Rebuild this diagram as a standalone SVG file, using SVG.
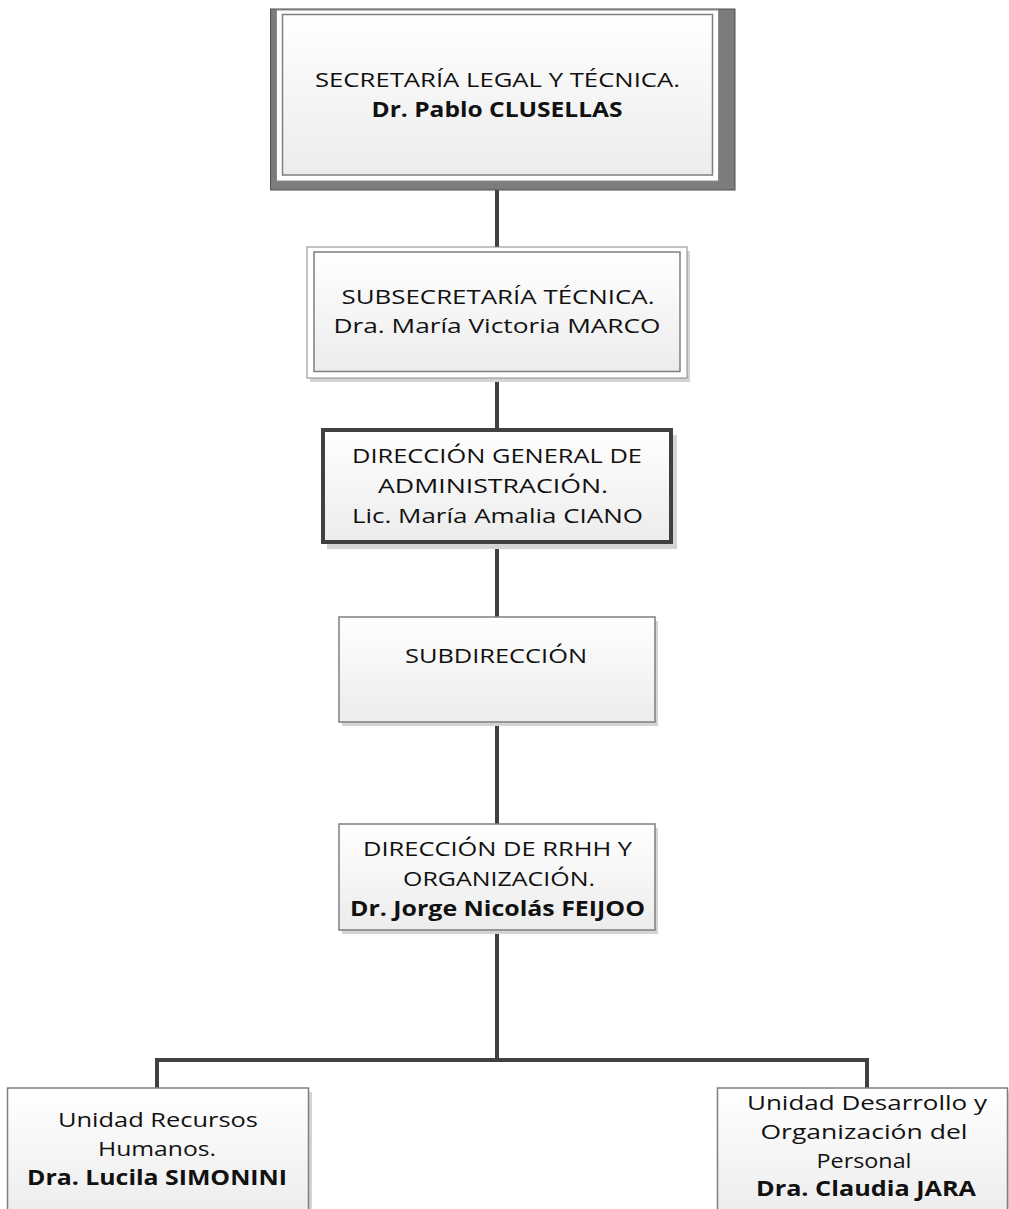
<svg xmlns="http://www.w3.org/2000/svg" width="1009" height="1209" viewBox="0 0 1009 1209">
<defs>
<linearGradient id="g" x1="0" y1="0" x2="0" y2="1">
<stop offset="0" stop-color="#ffffff"/>
<stop offset="1" stop-color="#ececec"/>
</linearGradient>
<style>
.t{font-family:"Open Sans","Liberation Sans",sans-serif;font-size:20.5px;fill:#111;text-anchor:middle}
.b{font-weight:bold}
.box{fill:url(#g);stroke:#7f7f7f;stroke-width:1.5}
.thick{fill:url(#g);stroke:#404040;stroke-width:4}
.sh{fill:#d4d4d4}
.c{fill:none;stroke:#404040;stroke-width:4}
</style>
</defs>
<rect width="1009" height="1209" fill="#ffffff"/>
<g id="connectors">
<line class="c" x1="497" y1="189" x2="497" y2="247"/>
<line class="c" x1="497" y1="378" x2="497" y2="429"/>
<line class="c" x1="497" y1="544" x2="497" y2="617"/>
<line class="c" x1="497" y1="722" x2="497" y2="824"/>
<line class="c" x1="497" y1="930" x2="497" y2="1060"/>
<polyline class="c" points="157,1088 157,1060 867,1060 867,1088"/>
</g>
<g id="n1">
<rect x="270.5" y="9" width="464.5" height="181" fill="#7c7c7c" stroke="#505050" stroke-width="1"/>
<rect x="276.5" y="10" width="442" height="171" fill="#ffffff" stroke="#8a8a8a" stroke-width="1"/>
<rect x="282.5" y="14.5" width="430" height="160.5" class="box"/>
<text class="t" x="497.5" y="87" textLength="365" lengthAdjust="spacingAndGlyphs">SECRETARÍA LEGAL Y TÉCNICA.</text>
<text class="t b" x="497" y="117" textLength="251" lengthAdjust="spacingAndGlyphs">Dr. Pablo CLUSELLAS</text>
</g>
<g id="n2">
<rect x="310" y="251" width="380" height="131" class="sh"/>
<rect x="307" y="247" width="380" height="131" fill="#ffffff" stroke="#8a8a8a" stroke-width="1"/>
<rect x="314" y="252" width="366" height="119.5" class="box"/>
<text class="t" x="498" y="304" textLength="313" lengthAdjust="spacingAndGlyphs">SUBSECRETARÍA TÉCNICA.</text>
<text class="t" x="497" y="333" textLength="327" lengthAdjust="spacingAndGlyphs">Dra. María Victoria MARCO</text>
</g>
<g id="n3">
<rect x="327" y="435" width="350" height="114" class="sh"/>
<rect x="323" y="430" width="348" height="112" class="thick"/>
<text class="t" x="497" y="463" textLength="290" lengthAdjust="spacingAndGlyphs">DIRECCIÓN GENERAL DE</text>
<text class="t" x="493" y="493" textLength="230" lengthAdjust="spacingAndGlyphs">ADMINISTRACIÓN.</text>
<text class="t" x="497.5" y="523" textLength="291" lengthAdjust="spacingAndGlyphs">Lic. María Amalia CIANO</text>
</g>
<g id="n4">
<rect x="342" y="621" width="316" height="105" class="sh"/>
<rect x="339" y="617" width="316" height="105" class="box"/>
<text class="t" x="496" y="663" textLength="182" lengthAdjust="spacingAndGlyphs">SUBDIRECCIÓN</text>
</g>
<g id="n5">
<rect x="342" y="828" width="316" height="106" class="sh"/>
<rect x="339" y="824" width="316" height="106" class="box"/>
<text class="t" x="497.5" y="856" textLength="269" lengthAdjust="spacingAndGlyphs">DIRECCIÓN DE RRHH Y</text>
<text class="t" x="499" y="886" textLength="192" lengthAdjust="spacingAndGlyphs">ORGANIZACIÓN.</text>
<text class="t b" x="497.5" y="916" textLength="295" lengthAdjust="spacingAndGlyphs">Dr. Jorge Nicolás FEIJOO</text>
</g>
<g id="n6">
<rect x="11" y="1092" width="301" height="130" class="sh"/>
<rect x="7.5" y="1088" width="301" height="130" class="box"/>
<text class="t" x="158" y="1127" textLength="200" lengthAdjust="spacingAndGlyphs">Unidad Recursos</text>
<text class="t" x="157" y="1156" textLength="118" lengthAdjust="spacingAndGlyphs">Humanos.</text>
<text class="t b" x="157" y="1185" textLength="260" lengthAdjust="spacingAndGlyphs">Dra. Lucila SIMONINI</text>
</g>
<g id="n7">
<rect x="721" y="1092" width="292" height="130" class="sh"/>
<rect x="717.5" y="1088" width="290" height="130" class="box"/>
<text class="t" x="867" y="1110" textLength="240" lengthAdjust="spacingAndGlyphs">Unidad Desarrollo y</text>
<text class="t" x="864" y="1139" textLength="207" lengthAdjust="spacingAndGlyphs">Organización del</text>
<text class="t" x="864" y="1168" textLength="95" lengthAdjust="spacingAndGlyphs">Personal</text>
<text class="t b" x="866" y="1196" textLength="220" lengthAdjust="spacingAndGlyphs">Dra. Claudia JARA</text>
</g>
</svg>
